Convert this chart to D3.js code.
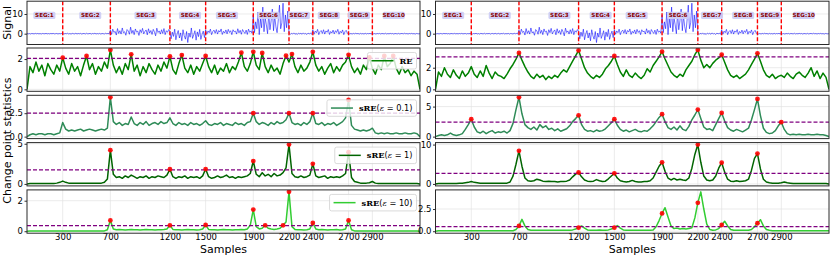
<!DOCTYPE html>
<html>
<head>
<meta charset="UTF-8">
<style>
  body { margin: 0; background: #fff; }
  svg text { font-family: 'DejaVu Sans', sans-serif; fill: #000; }
  .grid line { stroke: #e3e3e3; stroke-width: 0.7; }
  .tick text { font-size: 8.5px; }
  .tick line { stroke: #333; }
</style>
</head>
<body>
<svg id="chart" width="830" height="256"></svg>
<script src="https://d3js.org/d3.v7.min.js"></script>
<script>
// ---- data ----
const nSamples = 3300;
const segBounds = [300, 700, 1200, 1500, 1900, 2200, 2400, 2700, 2900];
const xTickVals = [300, 700, 1200, 1500, 1900, 2200, 2400, 2700, 2900];
const segLabels = ['SEG:1', 'SEG:2', 'SEG:3', 'SEG:4', 'SEG:5', 'SEG:6', 'SEG:7', 'SEG:8', 'SEG:9', 'SEG:10'];
const segLabelPosL = [146, 531, 995, 1369, 1679, 2028, 2283, 2534, 2788, 3079];
const segLabelPosR = [148, 539, 1039, 1385, 1687, 2034, 2319, 2580, 2803, 3088];
const segLabelLevel = 9.3;

// signal, one value every 10 samples
const signalStep = 10;
const signal = [
  // SEG 1
  0.1,-0.1,0.05,-0.15,0.1,0,-0.1,0.15,-0.05,0.1, -0.1,0.05,-0.15,0.1,0,-0.05,0.15,-0.1,0.05,-0.1,
  0.1,-0.05,0.15,-0.1,0,0.1,-0.15,0.05,-0.05,0.1,
  // SEG 2
  0.15,-0.2,0.1,-0.05,0.2,-0.15,0.05,-0.2,0.15,0, -0.1,0.2,-0.15,0.1,-0.05,0.15,-0.2,0.05,0.1,-0.15,
  0.2,-0.1,0,0.15,-0.2,0.1,-0.05,0.2,-0.15,0.05, -0.1,0.15,-0.2,0.1,0,-0.15,0.2,-0.05,0.1,-0.1,
  // SEG 3
  1.8,-0.4,2.3,0.6,1.2,-0.7,2.6,0.1,1.5,-0.2, 2.9,0.4,1.0,-0.8,2.1,1.4,-0.3,3.3,0.2,1.7,
  -0.5,2.4,0.8,1.3,-0.9,2.0,0.5,2.7,-0.1,1.1, 1.9,-0.6,2.5,0.3,1.6,-0.4,2.2,0.9,-1.1,2.8,
  0.6,1.4,-0.2,2.0,0.1,2.6,-0.5,1.5,0.7,2.1,
  // SEG 4
  1.2,-2.6,0.8,-1.4,2.3,-3.1,-0.2,1.6,-2.2,0.4, -3.6,2.0,-1.0,-2.8,1.1,-4.5,0.3,-1.8,2.9,-2.4,
  -0.6,1.5,-3.3,0.9,-1.5,2.2,-2.9,-0.3,1.3,-2.0,
  // SEG 5
  2.0,-0.3,1.4,0.5,2.3,-0.5,1.1,1.8,0.2,2.1, -0.2,1.6,0.8,2.4,-0.4,1.2,0.3,1.9,-0.1,2.2,
  0.6,1.5,-0.5,2.0,0.9,1.3,-0.2,2.5,0.4,1.7, -0.3,2.1,1.0,0.1,1.8,-0.4,2.3,0.7,1.4,0.2,
  // SEG 6
  9.5,0.5,6.0,2.5,11.0,-0.5,7.5,3.0,13.5,1.0, 8.0,4.5,0.0,10.5,2.0,6.5,12.5,1.5,9.0,3.5,
  0.5,7.0,14.5,2.5,5.5,15.5,1.0,9.5,3.0,11.5,
  // SEG 7
  0.3,-0.4,0.2,-0.2,0.4,-0.3,0.1,-0.4,0.3,-0.1, 0.2,-0.3,0.4,-0.2,0.1,-0.4,0.3,-0.1,0.2,-0.3,
  // SEG 8
  1.9,-0.3,1.3,0.5,2.2,-0.5,1.0,1.6,0.1,2.0, -0.2,1.4,0.7,2.1,-0.4,1.1,0.3,1.8,-0.1,1.5,
  0.6,2.2,-0.3,1.2,0.4,1.9,-0.5,1.0,1.7,0.2,
  // SEG 9
  0.2,-0.15,0.1,-0.2,0.15,-0.1,0.2,-0.05,0.1,-0.2, 0.15,-0.1,0.05,-0.2,0.2,-0.15,0.1,-0.05,0.15,-0.1,
  // SEG 10
  0.15,-0.1,0.05,-0.2,0.1,-0.05,0.15,-0.15,0.1,0, -0.1,0.2,-0.15,0.05,-0.1,0.15,-0.05,0.1,-0.2,0.1,
  0,-0.1,0.15,-0.15,0.05,0.1,-0.1,0.2,-0.05,0.05, -0.15,0.1,-0.05,0.15,-0.1,0.05,-0.2,0.1,0,-0.1,
  0
];

// change point statistics, one value every 25 samples
const statStep = 25;
const reL = [0,
  1.5,1.1,1.8,1.2,1.6,0.9,1.7,1.3,1.0,1.6,1.2, 2.09,
  1.4,1.0,1.7,1.2,1.5,0.9,1.6, 2.2,
  1.3,1.7,1.0,1.5,1.2,1.8,1.4, 2.6,
  1.6,1.1,1.5,1.0,1.7,1.3, 2.31,
  1.2,1.6,0.9,1.5,1.1,1.7,1.3,1.0,1.6,1.2,1.8,1.4, 2.18,
  1.3,1.0,1.7, 2.26,
  1.4,1.1,1.6,1.0,1.5,1.2,1.7, 2.2,
  1.5,1.1,1.6,1.0,1.4,1.2,1.7,1.1,1.5,1.3,1.8, 2.42,
  1.5,1.2,1.7, 2.48, 1.6,1.3, 2.4,
  1.5,1.1,1.6,1.2,1.4,1.0,1.7, 2.22, 1.8, 2.33,
  1.5,1.1,1.6,1.2,1.4,1.8, 2.48,
  1.6,1.2,1.5,1.0,1.4,1.7,1.1,1.5,1.2,1.6,1.8, 2.28,
  1.5,1.1,1.4,1.0,1.6,1.3, 2.11,
  1.4,1.0,1.6,1.3, 2.2, 1.5,1.7, 2.2,
  1.4,1.0,1.5,1.1,1.3,0.9,1.2,1.0, 0];
const sre01L = [0,
  0.2,0.3,0.2,0.3,0.3,0.2,0.3,0.3,0.2,0.3,0.4, 1.5,
  0.8,0.6,0.7,0.6,0.7,0.8,0.6,0.7,0.8,0.7,0.6,0.7,0.8,0.7,0.9, 4.2,
  1.6,1.3,1.5,1.2,1.4,1.3,2.1,1.4,1.2,1.5,1.3,1.6,1.2,1.4,1.5,1.3,1.6,1.4,1.5, 2.0,
  1.4,1.2,1.5,1.3,1.4,1.2,1.5,1.3,1.4,1.2,1.4, 1.7,
  1.3,1.2,1.4,1.3,1.5,1.2,1.4,1.3,1.2,1.5,1.3,1.4,1.2,1.5,1.6, 2.5,
  1.6,1.3,1.5,1.4,1.2,1.5,1.3,1.6,1.4,1.5,1.8, 2.5,
  1.5,1.3,1.4,1.2,1.5,1.3,1.6, 2.5,
  1.4,1.3,1.5,1.2,1.4,1.3,1.5,1.2,1.4,1.6,2.0, 3.92,
  1.2,0.8,0.7,0.6,0.7,0.6,0.7, 0.9,
  0.4,0.3,0.4,0.3,0.4,0.3,0.3,0.4,0.3,0.3,0.4,0.3,0.3,0.4,0.3, 0];
const sre1L = [0,
  0.05,0.05,0.05,0.05,0.05,0.05,0.05,0.05,0.05,0.1,0.2, 0.35,
  0.2,0.1,0.1,0.1,0.1,0.1,0.1,0.1,0.1,0.1,0.1,0.1,0.1,0.2,0.6, 4.2,
  1.2,0.8,0.9,0.7,1.0,0.8,1.1,0.9,0.7,0.9,0.8,1.0,0.7,0.9,0.8,1.0,0.9,0.8,1.1, 1.83,
  0.9,0.7,0.9,0.8,1.0,0.7,0.9,0.8,0.9,0.7,1.0, 1.85,
  0.9,0.7,0.8,1.0,0.8,0.9,1.1,0.8,0.9,0.7,0.9,0.8,0.9,1.0,1.3, 2.85,
  1.2,0.9,1.4,1.0,1.2,0.9,1.3,1.0,1.1,1.4,2.0, 4.9,
  1.3,0.9,0.8,1.0,0.8,0.9,1.1, 2.5,
  1.0,0.8,0.9,1.0,0.7,0.9,0.8,0.9,0.8,1.0,1.3, 3.95,
  0.8,0.3,0.2,0.1,0.1,0.1,0.15, 0.3,
  0.1,0.05,0.05,0.05,0.05,0.05,0.05,0.05,0.05,0.05,0.05,0.05,0.05,0.05,0.05, 0];
const sre10L = [0,
  0.02,0.02,0.02,0.02,0.02,0.02,0.02,0.02,0.02,0.02,0.02,0.02,0.02,
  0.02,0.02,0.02,0.02,0.02,0.02,0.02,0.02,0.02,0.02,0.02,0.02,0.02,0.1, 0.71,
  0.15,0.1,0.12,0.1,0.08,0.1,0.12,0.1,0.1,0.08,0.1,0.12,0.1,0.1,0.08,0.1,0.1,0.12,0.15, 0.39,
  0.12,0.1,0.1,0.08,0.1,0.12,0.1,0.1,0.08,0.1,0.15, 0.41,
  0.12,0.1,0.1,0.08,0.1,0.12,0.1,0.1,0.08,0.1,0.1,0.12,0.1,0.15,0.4, 1.42,
  0.3,0.15,0.2, 0.39, 0.2,0.15,0.12,0.15,0.2, 0.39, 0.6, 2.58,
  0.3,0.12,0.1,0.1,0.08,0.1,0.15, 0.54,
  0.15,0.1,0.12,0.1,0.08,0.1,0.1,0.12,0.08,0.1,0.15, 0.71,
  0.1,0.02,0.02,0.02,0.02,0.02,0.02,0.02,0.02,0.02,0.02,0.02,
  0.02,0.02,0.02,0.02,0.02,0.02,0.02,0.02,0.02,0.02,0.02, 0];

const reR = [0,
  1.6,1.2,2.0,1.4,1.1,1.8,1.3,1.0,1.7,1.2,1.5, 2.1,
  1.4,1.1,1.7,1.2,2.2,1.5,1.0,1.6,1.3,1.2,1.0, 1.4,1.9,2.3,2.8, 3.36,
  2.7,2.1,1.6, 1.2,1.0,1.4,1.1,1.3,0.9,1.2,1.0,1.3,1.1,1.5,1.8, 1.6,2.1,2.6,3.1, 3.6,
  2.8,2.0,1.5, 1.2,1.0,1.3,1.1,1.4,1.9, 2.2,2.6, 3.08,
  2.3,1.6,1.2, 1.8,1.3,1.1,1.5,1.2,1.0,1.3,1.9, 1.6,2.2,2.6,3.0, 3.48,
  2.8,2.2,1.6, 1.3,1.1,1.4,1.2,1.8, 2.2,2.6,3.2, 3.64,
  2.7,2.0,2.3, 2.0,2.4,2.7,2.9, 3.2,
  2.5,1.8,1.3, 1.1,1.3,1.0,1.2,1.4,1.8, 2.3,2.8, 3.33,
  2.6,1.8,1.3, 1.1,1.4,1.0,1.2,1.3,1.1,1.5,1.2,1.0,1.4,1.6,1.3,1.1,1.5,2.0,1.2,1.7,1.0,1.5,1.1, 0];
const sre01R = [0,
  0.2,0.3,0.2,0.3,0.6,0.3,0.2,0.3,0.5,1.2, 2.0, 2.9,
  1.6,0.8, 0.6,0.9,0.5,0.8,1.0,0.6,0.8,0.7,0.9,0.6,1.0, 2.2,4.5, 6.55,
  3.8,2.0,1.5, 1.2,1.6,1.1,2.0,1.5,1.8,1.2,1.4,1.0,1.3,0.9,1.1,1.3,1.8, 2.5,3.0, 3.55,
  2.0,1.2,0.9, 1.0,0.8,1.1,0.9,1.0,1.3, 1.8,2.3, 2.9,
  1.9,1.2,0.9, 1.1,0.8,1.0,1.2,0.9,0.8,1.0,0.9,1.3, 1.8,2.5,3.2, 3.73,
  2.5,1.5,1.2, 1.6,1.1,1.8,1.2,1.0,1.7, 2.8,3.6, 4.5,
  3.0,1.6,1.2, 1.3,1.0,2.0,3.0, 3.95,
  2.6,1.5,1.1, 0.9,1.2,1.0,0.8,1.1,1.4, 2.8,4.5, 6.28,
  3.5,1.4,0.7, 0.5,0.6,1.0, 1.8, 2.4,
  1.2,0.5,0.3, 0.4,0.3,0.4,0.3,0.3,0.4,0.3,0.3,0.4,0.3,0.3,0.2, 0];
const sre1R = [0,
  0.1,0.1,0.1,0.1,0.1,0.1,0.1,0.2,0.2,0.3,0.4, 0.6,
  0.4,0.3,0.2,0.2,0.2,0.2,0.2,0.2,0.2,0.2,0.2,0.2,0.5, 2.0,5.0, 8.4,
  4.5,1.5,0.8, 0.7,0.8,1.2,1.0,0.7,0.6,0.7,0.6,0.6,0.5,0.6,0.6,0.7,1.0, 1.8,2.5, 2.9,
  1.8,1.0,0.7, 0.6,0.7,1.1,0.8,0.6,0.7, 1.3,2.0, 2.7,
  1.5,0.8,0.6, 0.5,0.6,0.9,0.6,0.5,0.5,0.6,0.6,0.8, 1.5,3.0,4.5, 5.5,
  3.2,1.5,1.0, 1.4,1.0,1.2,1.0,0.9,1.5, 4.0,7.5, 10.0,
  5.5,2.0,1.0, 0.8,1.0,2.0,4.0, 5.4,
  3.0,1.2,0.7, 0.6,0.8,0.6,0.7,0.8,1.2, 3.5,6.5, 7.7,
  3.8,1.2,0.5, 0.3,0.2,0.2,0.2,0.3,0.5,0.3,0.2,0.1,0.1,0.1,0.1,0.1,0.1,0.1,0.1,0.1,0.1,0.1,0.1, 0];
const sre10R = [0,
  0.05,0.05,0.05,0.05,0.05,0.05,0.05,0.05,0.05,0.05,0.05,0.05,0.05,
  0.05,0.05,0.05,0.05,0.05,0.05,0.05,0.05,0.05,0.05,0.05,0.05,0.05, 0.2,0.6, 1.34,
  0.6,0.2,0.1, 0.1,0.1,0.1,0.1,0.1,0.1,0.1,0.1,0.1,0.1,0.1,0.1,0.1,0.15, 0.25,0.4, 0.6,
  0.35,0.15,0.1, 0.1,0.1,0.15,0.1,0.1,0.15, 0.25,0.4, 0.64,
  0.35,0.15,0.1, 0.1,0.1,0.1,0.1,0.1,0.1,0.1,0.1,0.15, 0.5,1.2,2.0, 2.65,
  1.6,0.6,0.3, 0.35,0.25,0.3,0.25,0.3,0.4, 1.5,3.2, 4.43,
  2.5,0.8,0.2, 0.1,0.15,0.3,0.7, 1.12,
  0.6,0.2,0.1, 0.1,0.1,0.1,0.1,0.1,0.2, 0.5,0.9, 1.3,
  0.6,0.2,0.1, 0.05,0.05,0.05,0.05,0.05,0.05,0.05,0.05,0.05,0.05,
  0.05,0.05,0.05,0.05,0.05,0.05,0.05,0.05,0.05,0.05, 0];

// detected change points (red dots), in samples
const peaksReL = [300, 500, 700, 875, 1200, 1300, 1500, 1800, 1900, 1975, 2175, 2225, 2400, 2700, 2875, 3000, 3075];
const peaksSre01L = [700, 1900, 2200, 2400, 2700];
const peaksSre1L = [700, 1200, 1500, 1900, 2200, 2400, 2700];
const peaksSre10L = [700, 1200, 1500, 1900, 2000, 2150, 2200, 2400, 2700];
const peaksReR = [700, 1200, 1500, 1900, 2200, 2400, 2700];
const peaksSre01R = [300, 700, 1200, 1500, 1900, 2200, 2400, 2700, 2900];
const peaksSre1R = [700, 1200, 1500, 1900, 2200, 2400, 2700];
const peaksSre10R = [700, 1200, 1500, 1900, 2200, 2400, 2700];

const thresholdsL = [2.05, 2.5, 1.75, 0.37];
const thresholdsR = [3.0, 2.4, 2.7, 0.52];

const signalTicks = [0, 10];
const yTicksL = [[0, 2], [0, 2.5], [0, 5], [0, 2]];
const yTicksR = [[0, 2], [0, 5], [0, 10], [0, 2.5]];

const legendNames = ['RE', 'sRE', 'sRE', 'sRE'];
const legendEps = [null, '0.1', '1', '10'];

// ---- layout ----
const cols = [{ x0: 27, x1: 420 }, { x0: 435.5, x1: 829 }];
const rowTop = [1.2, 48, 95.3, 142.6, 189.9];
const rowH = 43.3;
const statColors = ['#008000', '#2e8b57', '#006400', '#32cd32'];

const svg = d3.select('#chart');
let clipId = 0;

function padded(vals) {
  const [lo, hi] = d3.extent(vals);
  const p = (hi - lo) * 0.05;
  return [lo - p, hi + p];
}

function makePanel(col, row, yDomain, yTicks, isBottom) {
  const x = d3.scaleLinear().domain([0, nSamples]).range([col.x0, col.x1]);
  const y = d3.scaleLinear().domain(yDomain).range([rowTop[row] + rowH, rowTop[row]]);
  const g = svg.append('g');
  const id = 'clip' + (clipId++);
  g.append('clipPath').attr('id', id).append('rect')
    .attr('x', col.x0).attr('y', rowTop[row])
    .attr('width', col.x1 - col.x0).attr('height', rowH);

  // grid
  const grid = g.append('g').attr('class', 'grid');
  grid.selectAll('line.v').data(xTickVals).join('line').attr('class', 'v')
    .attr('x1', d => x(d)).attr('x2', d => x(d))
    .attr('y1', rowTop[row]).attr('y2', rowTop[row] + rowH);
  grid.selectAll('line.h').data(yTicks).join('line').attr('class', 'h')
    .attr('x1', col.x0).attr('x2', col.x1)
    .attr('y1', d => y(d)).attr('y2', d => y(d));

  const fmt = yTicks.some(t => t % 1 !== 0) ? d3.format('.1f') : d3.format('d');
  const ax = g.append('g').attr('transform', `translate(${col.x0},0)`)
    .call(d3.axisLeft(y).tickValues(yTicks).tickSize(2.5).tickPadding(1.5).tickFormat(fmt));
  ax.select('.domain').remove();

  const ax2 = g.append('g').attr('transform', `translate(0,${rowTop[row] + rowH})`)
    .call(d3.axisBottom(x).tickValues(xTickVals).tickSize(isBottom ? 1.2 : 0)
      .tickPadding(0).tickFormat(d3.format('d')));
  ax2.select('.domain').remove();
  if (!isBottom) ax2.selectAll('text').remove();

  const plot = g.append('g').attr('clip-path', `url(#${id})`);
  return { x, y, g, plot, col, row };
}

function frame(p) {
  p.g.append('rect')
    .attr('x', p.col.x0).attr('y', rowTop[p.row])
    .attr('width', p.col.x1 - p.col.x0).attr('height', rowH)
    .attr('fill', 'none').attr('stroke', '#2a2a2a').attr('stroke-width', 1);
}

function drawSignal(col, labelPos) {
  const p = makePanel(col, 0, padded(signal), signalTicks, false);
  const line = d3.line().x((d, i) => p.x(i * signalStep)).y(d => p.y(d));
  p.plot.append('path').datum(signal)
    .attr('d', line).attr('fill', 'none')
    .attr('stroke', '#0000ff').attr('stroke-width', 0.55);
  p.plot.selectAll('line.seg').data(segBounds).join('line').attr('class', 'seg')
    .attr('x1', d => p.x(d)).attr('x2', d => p.x(d))
    .attr('y1', rowTop[0]).attr('y2', rowTop[0] + rowH)
    .attr('stroke', '#ff0000').attr('stroke-width', 1.4)
    .attr('stroke-dasharray', '4,2');
  const lab = p.plot.selectAll('g.lab').data(segLabels).join('g').attr('class', 'lab')
    .attr('transform', (d, i) => `translate(${p.x(labelPos[i])},${p.y(segLabelLevel)})`);
  lab.append('rect')
    .attr('x', -11).attr('y', -3.7).attr('width', 22).attr('height', 7.4)
    .attr('rx', 1.5).attr('fill', '#cdcdf5').attr('opacity', 0.95);
  lab.append('text')
    .attr('text-anchor', 'middle').attr('dy', '0.35em')
    .style('font-size', '5.6px').style('font-weight', 'bold')
    .style('fill', '#8b0000')
    .text(d => d);
  frame(p);
}

function drawStat(col, row, vals, peaks, thr, ticks, color, legendIdx) {
  const p = makePanel(col, row, padded(vals), ticks, row === 4);
  const line = d3.line().x((d, i) => p.x(i * statStep)).y(d => p.y(d));
  p.plot.append('path').datum(vals)
    .attr('d', line).attr('fill', 'none')
    .attr('stroke', color).attr('stroke-width', 1.5)
    .attr('stroke-linejoin', 'round');
  p.plot.append('line')
    .attr('x1', col.x0).attr('x2', col.x1)
    .attr('y1', p.y(thr)).attr('y2', p.y(thr))
    .attr('stroke', '#800080').attr('stroke-width', 1.2)
    .attr('stroke-dasharray', '4,2');
  p.plot.selectAll('circle').data(peaks).join('circle')
    .attr('cx', d => p.x(d)).attr('cy', d => p.y(vals[d / statStep]))
    .attr('r', 2.4).attr('fill', '#ff0000').attr('opacity', 0.9);

  if (legendIdx !== null) {
    const lg = p.g.append('g');
    const box = lg.append('rect');
    const top = rowTop[row] + 4.5, bh = 16.5, cy = top + bh / 2;
    const t = lg.append('text').attr('y', cy).attr('dy', '0.35em').style('font-size', '8.2px');
    t.append('tspan').style('font-family', "'DejaVu Serif', serif").style('font-weight', 'bold')
      .text(legendNames[legendIdx]);
    if (legendEps[legendIdx] !== null) {
      t.append('tspan').text('(');
      t.append('tspan').style('font-family', "'DejaVu Serif', serif").style('font-style', 'italic').text('ε');
      t.append('tspan').text(' = ' + legendEps[legendIdx] + ')');
    }
    const tw = t.node().getComputedTextLength();
    const bw = 4 + 22 + 6 + tw + 4;
    const bx = col.x1 - 3.5 - bw;
    box.attr('x', bx).attr('y', top).attr('width', bw).attr('height', bh)
      .attr('rx', 2).attr('fill', 'rgba(255,255,255,0.8)').attr('stroke', '#d0d0d0').attr('stroke-width', 0.8);
    lg.append('line').attr('x1', bx + 4).attr('x2', bx + 26).attr('y1', cy).attr('y2', cy)
      .attr('stroke', color).attr('stroke-width', 1.5);
    t.attr('x', bx + 32);
  }
  frame(p);
}

const seriesL = [reL, sre01L, sre1L, sre10L];
const seriesR = [reR, sre01R, sre1R, sre10R];
const peaksL = [peaksReL, peaksSre01L, peaksSre1L, peaksSre10L];
const peaksR = [peaksReR, peaksSre01R, peaksSre1R, peaksSre10R];

drawSignal(cols[0], segLabelPosL);
drawSignal(cols[1], segLabelPosR);
for (let k = 0; k < 4; k++) {
  drawStat(cols[0], k + 1, seriesL[k], peaksL[k], thresholdsL[k], yTicksL[k], statColors[k], k);
  drawStat(cols[1], k + 1, seriesR[k], peaksR[k], thresholdsR[k], yTicksR[k], statColors[k], null);
}

// axis titles
svg.append('text').attr('transform', `translate(10.5,${rowTop[0] + rowH / 2}) rotate(-90)`)
  .attr('text-anchor', 'middle').style('font-size', '11px').text('Signal');
svg.append('text').attr('transform', `translate(10.5,${(rowTop[1] + rowTop[4] + rowH) / 2}) rotate(-90)`)
  .attr('text-anchor', 'middle').style('font-size', '11px').text('Change point statistics');
cols.forEach(c => {
  svg.append('text').attr('x', (c.x0 + c.x1) / 2).attr('y', 252.5)
    .attr('text-anchor', 'middle').style('font-size', '11px').text('Samples');
});
</script>
</body>
</html>
